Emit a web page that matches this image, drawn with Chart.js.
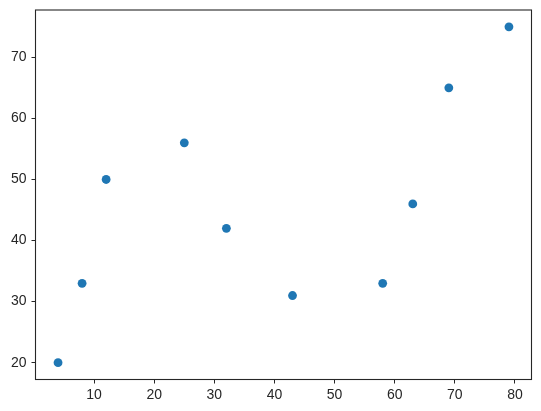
<!DOCTYPE html>
<html lang="en">
<head>
    <meta charset="UTF-8">
    <title>Scatter</title>
    <script src="https://cdn.jsdelivr.net/npm/chart.js"></script>
    <style>
        body { margin: 0; background: #fff; }
    </style>
</head>
<body>
    <canvas id="scatterChart" width="541" height="411"></canvas>

    <script>
        // data
        const xValues = [4, 8, 12, 25, 32, 43, 58, 63, 69, 79];
        const yValues = [20, 33, 50, 56, 42, 31, 33, 46, 65, 75];
        const xTicks = [10, 20, 30, 40, 50, 60, 70, 80];
        const yTicks = [20, 30, 40, 50, 60, 70];

        const ink = '#262626';

        // box round the plot area, like matplotlib spines
        const frame = {
          id: 'frame',
          afterDraw(chart) {
            const a = chart.chartArea;
            const ctx = chart.ctx;
            ctx.save();
            ctx.strokeStyle = ink;
            ctx.lineWidth = 1.1;
            ctx.strokeRect(a.left, a.top, a.right - a.left, a.bottom - a.top);
            ctx.restore();
          }
        };

        new Chart(document.getElementById('scatterChart'), {
          type: 'scatter',
          data: {
            datasets: [{
              data: xValues.map((x, i) => ({ x: x, y: yValues[i] })),
              backgroundColor: '#1f77b4',
              borderWidth: 0,
              pointRadius: 4.4,
              pointHoverRadius: 4.4
            }]
          },
          options: {
            responsive: false,
            animation: false,
            layout: { autoPadding: false, padding: { left: 0, top: 10, right: 9.5, bottom: 0 } },
            plugins: { legend: { display: false }, tooltip: { enabled: false } },
            scales: {
              x: {
                type: 'linear',
                min: 0.25,
                max: 82.75,
                afterBuildTicks: s => { s.ticks = xTicks.map(v => ({ value: v })); },
                afterFit: s => { s.height = 31.5; s.paddingLeft = 0; s.paddingRight = 0; },
                grid: { drawOnChartArea: false, tickLength: 4, tickColor: ink, tickWidth: 1 },
                border: { display: false },
                ticks: { color: ink, padding: 3, font: { family: 'Liberation Sans', size: 14 } }
              },
              y: {
                type: 'linear',
                min: 17.25,
                max: 77.75,
                afterBuildTicks: s => { s.ticks = yTicks.map(v => ({ value: v })); },
                afterFit: s => { s.width = 35.5; s.paddingTop = 0; s.paddingBottom = 0; },
                grid: { drawOnChartArea: false, tickLength: 4, tickColor: ink, tickWidth: 1 },
                border: { display: false },
                ticks: { color: ink, padding: 5, font: { family: 'Liberation Sans', size: 14 } }
              }
            }
          },
          plugins: [frame]
        });
    </script>
</body>
</html>
